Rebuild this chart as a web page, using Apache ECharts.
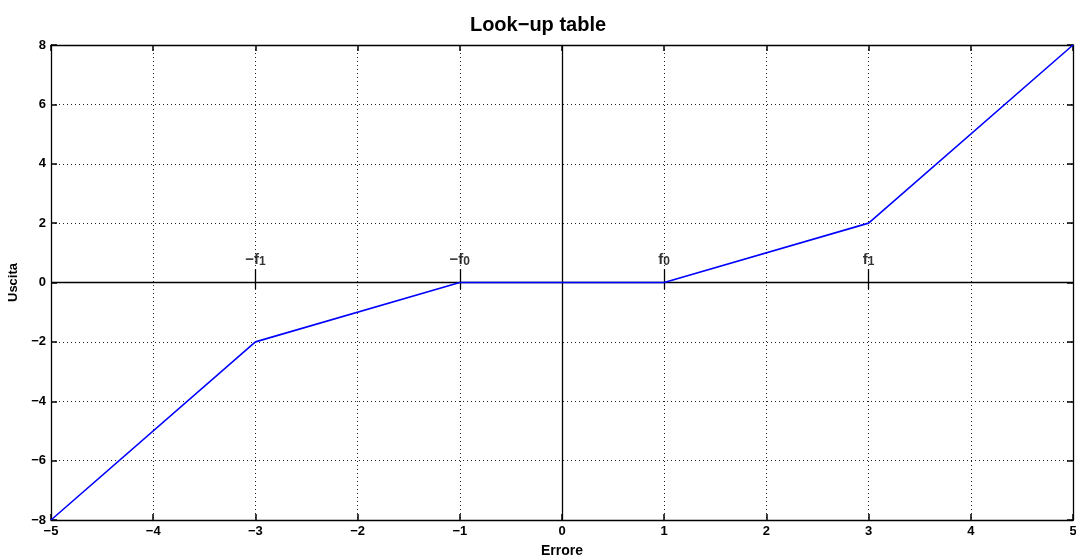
<!DOCTYPE html>
<html>
<head>
<meta charset="utf-8">
<script src="https://cdn.jsdelivr.net/npm/echarts@6/dist/echarts.min.js"></script>
<style>
  html, body { margin: 0; padding: 0; background: #fff; }
  #chart { width: 1076px; height: 555px; }
</style>
</head>
<body>
<div id="chart"></div>
<script>
// Piecewise-linear look-up table: breakpoints (Errore -> Uscita)
const errore = [-5, -3, -1, 1, 3, 5];
const uscita = [-8, -2, 0, 0, 2, 8];

// Breakpoint annotations
const markX = [-3, -1, 1, 3];
const markText = ['{b|\u2212f}{s|1}', '{b|\u2212f}{s|0}', '{b|f}{s|0}', '{b|f}{s|1}'];
const markY = 0.9;

const FONT = '"Liberation Sans", Arial, sans-serif';
const fmt = v => (v < 0 ? '\u2212' + Math.abs(v) : String(v));

const chart = echarts.init(document.getElementById('chart'), null, { renderer: 'canvas' });

const baseAxisLine = { show: true, onZero: false, lineStyle: { color: '#000', width: 1.3 } };
const tick = { show: true, inside: true, length: 6, lineStyle: { color: '#000', width: 1.5 } };
const grid = { show: true, lineStyle: { color: '#222', type: [1, 3], width: 1 } };

chart.setOption({
  animation: false,
  backgroundColor: '#fff',
  title: {
    text: 'Look\u2212up table',
    left: 'center', top: 10,
    textStyle: { fontFamily: FONT, fontWeight: 'bold', fontSize: 20, color: '#000' }
  },
  grid: { left: 51, right: 3, top: 45, bottom: 35, containLabel: false, outerBoundsMode: 'none' },
  xAxis: [{
    type: 'value', min: -5, max: 5, interval: 1,
    position: 'bottom',
    name: 'Errore', nameLocation: 'middle', nameGap: 24,
    nameTextStyle: { fontFamily: FONT, fontWeight: 'bold', fontSize: 14, color: '#000' },
    axisLine: baseAxisLine, axisTick: tick, splitLine: grid,
    axisLabel: { fontFamily: FONT, fontWeight: 'bold', fontSize: 13, color: '#000', margin: 5, formatter: fmt }
  }, {
    type: 'value', min: -5, max: 5, interval: 1,
    position: 'top',
    axisLine: baseAxisLine, axisTick: tick, splitLine: { show: false }, axisLabel: { show: false }
  }],
  yAxis: [{
    type: 'value', min: -8, max: 8, interval: 2,
    position: 'left',
    name: 'Uscita', nameLocation: 'middle', nameGap: 27, nameRotate: 90,
    nameTextStyle: { fontFamily: FONT, fontWeight: 'bold', fontSize: 13, color: '#000' },
    axisLine: baseAxisLine, axisTick: tick, splitLine: grid,
    axisLabel: { fontFamily: FONT, fontWeight: 'bold', fontSize: 13, color: '#000', margin: 5, formatter: fmt }
  }, {
    type: 'value', min: -8, max: 8, interval: 2,
    position: 'right',
    axisLine: baseAxisLine, axisTick: tick, splitLine: { show: false }, axisLabel: { show: false }
  }],
  series: [{
    // zero axes and the short markers at the breakpoints
    type: 'line', data: [], silent: true,
    markLine: {
      symbol: 'none', silent: true, label: { show: false },
      lineStyle: { color: '#000', type: 'solid', width: 1.3 },
      data: [
        { xAxis: 0 },
        { yAxis: 0 }
      ].concat(markX.map(x => [{ coord: [x, -0.22] }, { coord: [x, 0.45] }]))
    }
  }, {
    name: 'Uscita', type: 'line',
    data: errore.map((x, i) => [x, uscita[i]]),
    showSymbol: false, symbol: 'none',
    lineStyle: { color: '#0000ff', width: 1.6 },
    z: 5
  }, {
    type: 'scatter', symbolSize: 0, silent: true,
    data: markX.map((x, i) => ({ value: [x, markY], label: { formatter: markText[i] } })),
    label: {
      show: true, position: 'inside', color: '#000',
      rich: {
        b: { fontFamily: FONT, fontWeight: 'bold', fontSize: 15, color: '#000', verticalAlign: 'bottom' },
        s: { fontFamily: FONT, fontWeight: 'bold', fontSize: 12, color: '#000', padding: [12, 0, 0, 0] }
      }
    }
  }]
});
</script>
</body>
</html>
